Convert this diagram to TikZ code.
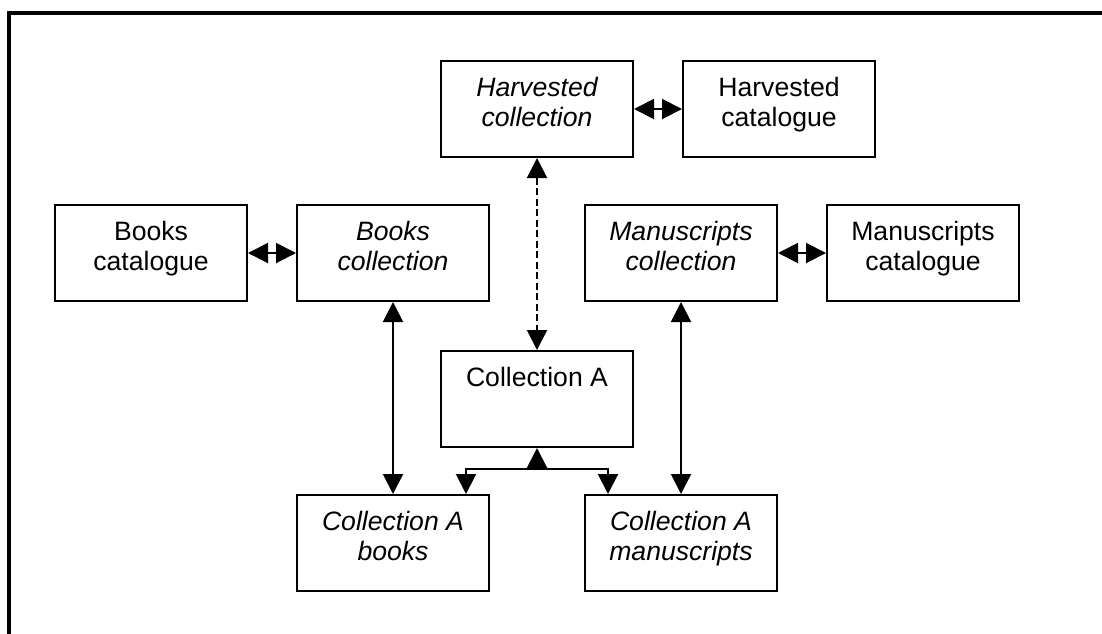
\documentclass[tikz,border=0pt]{standalone}
\usepackage{fontspec}
\setmainfont{Liberation Sans}
\usetikzlibrary{positioning,arrows.meta}

\begin{document}
\begin{tikzpicture}
    [x=0.5pt, y=-0.5pt,
    box/.style={draw, line width=1pt, minimum width=96pt, inner sep=0pt,
      align=center, text height=32.5pt, text depth=15.5pt,
      font=\fontsize{13.3}{15}\selectfont},
    single/.style={text height=17.5pt, text depth=30.5pt},
    coll/.style={box, font=\fontsize{13.3}{15}\selectfont\itshape},
    link/.style={line width=1pt,
      {Triangle[length=10pt,width=10pt]}-{Triangle[length=10pt,width=10pt]}},
    feed/.style={line width=1pt, -{Triangle[length=10pt,width=10pt]}}]
    \useasboundingbox (0,0) rectangle (1102,633);
    \draw[line width=2pt] (9,645) -- (9,13) -- (1115,13);
    % collections and their catalogues
    \node[coll] (hcoll) at (537,109) {Harvested\\collection};
    \node[box, right=24pt of hcoll] (hcat) {Harvested\\catalogue};
    \node[coll] (bcoll) at (393,253) {Books\\collection};
    \node[box, left=24pt of bcoll] (bcat) {Books\\catalogue};
    \node[coll] (mcoll) at (681,253) {Manuscripts\\collection};
    \node[box, right=24pt of mcoll] (mcat) {Manuscripts\\catalogue};
    \node[box, single, below=96pt of hcoll] (ca) {Collection A};
    \node[coll, below=96pt of bcoll] (cab) {Collection A\\books};
    \node[coll, below=96pt of mcoll] (cam) {Collection A\\manuscripts};
    % connectors
    \draw[link] (hcoll) -- (hcat);
    \draw[link] (bcat) -- (bcoll);
    \draw[link] (mcoll) -- (mcat);
    \draw[link] (bcoll) -- (cab);
    \draw[link] (mcoll) -- (cam);
    \draw[link, dash pattern=on 3.5pt off 1.75pt] (hcoll) -- (ca);
    \coordinate (split) at (537,469);
    \coordinate (cabin) at ([xshift=-12pt]cab.north east);
    \coordinate (camin) at ([xshift=12pt]cam.north west);
    \draw[feed] (split) -- (ca);
    \draw[feed] (split) -| (cabin);
    \draw[feed] (split) -| (camin);
\end{tikzpicture}
\end{document}
